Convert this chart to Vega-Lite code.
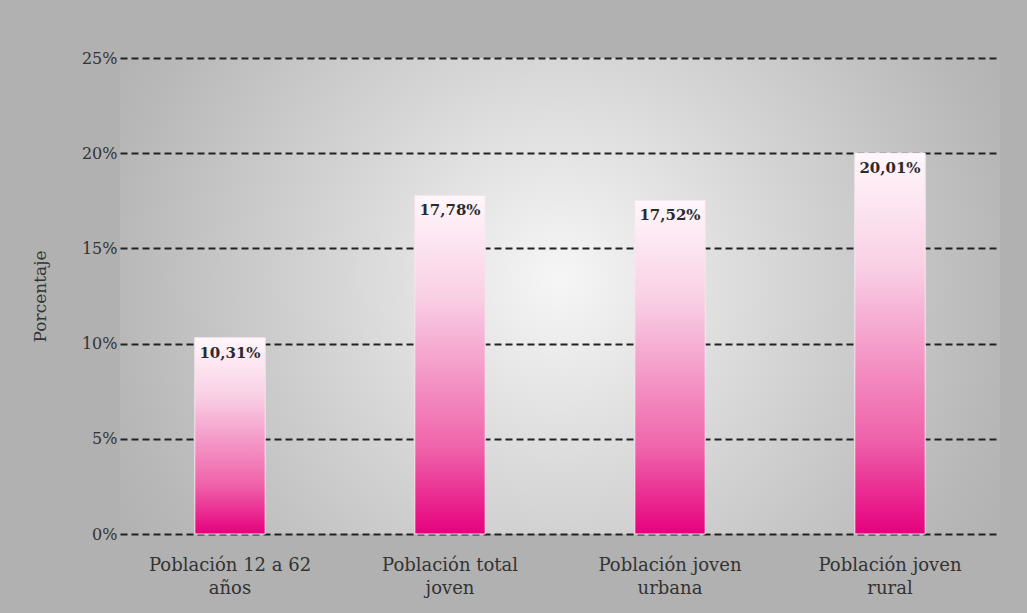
{
  "$schema": "https://vega.github.io/schema/vega-lite/v6.json",
  "autosize": "none",
  "width": 880,
  "height": 476,
  "padding": {"left": 120, "top": 58, "right": 27, "bottom": 79},
  "background": "#b1b1b1",
  "view": {
    "stroke": null,
    "fill": {
      "gradient": "radial",
      "x1": 0.5, "y1": 0.48, "x2": 0.5, "y2": 0.48,
      "r1": 0, "r2": 0.72,
      "stops": [
        {"offset": 0, "color": "#f6f6f6"},
        {"offset": 0.35, "color": "#d6d6d6"},
        {"offset": 0.7, "color": "#b8b8b8"},
        {"offset": 1, "color": "#a6a6a6"}
      ]
    }
  },
  "config": {
    "locale": {"number": {"decimal": ",", "thousands": ".", "grouping": [3], "currency": ["", " €"]}},
    "font": "DejaVu Serif"
  },
  "data": {
    "values": [
      {"grupo": "Población 12 a 62 años", "porcentaje": 0.1031},
      {"grupo": "Población total joven", "porcentaje": 0.1778},
      {"grupo": "Población joven urbana", "porcentaje": 0.1752},
      {"grupo": "Población joven rural", "porcentaje": 0.2001}
    ]
  },
  "encoding": {
    "x": {
      "field": "grupo",
      "type": "nominal",
      "sort": null,
      "scale": {"paddingInner": 0.68, "paddingOuter": 0.34},
      "axis": {
        "title": null,
        "domain": false,
        "ticks": false,
        "labelAngle": 0,
        "labelFontSize": 18,
        "labelColor": "#333333",
        "labelPadding": 22,
        "labelLineHeight": 23,
        "labelExpr": "[slice(datum.value, 0, lastindexof(datum.value, ' ')), slice(datum.value, lastindexof(datum.value, ' ') + 1)]"
      }
    },
    "y": {
      "field": "porcentaje",
      "type": "quantitative",
      "scale": {"domain": [0, 0.25]},
      "axis": {
        "title": "Porcentaje",
        "titleFontSize": 17,
        "titleFontWeight": "normal",
        "titleColor": "#333333",
        "titlePadding": 32,
        "format": ".0%",
        "values": [0, 0.05, 0.1, 0.15, 0.2, 0.25],
        "domain": false,
        "ticks": false,
        "labelPadding": 3,
        "labelFontSize": 16,
        "labelColor": "#333333",
        "grid": true,
        "gridColor": "#222222",
        "gridDash": [7, 4],
        "gridWidth": 1.8,
        "gridOpacity": 1
      }
    }
  },
  "layer": [
    {
      "mark": {
        "type": "bar",
        "color": {
          "gradient": "linear",
          "x1": 0, "y1": 0, "x2": 0, "y2": 1,
          "stops": [
            {"offset": 0, "color": "#fff7fb"},
            {"offset": 0.3, "color": "#f9cfe4"},
            {"offset": 0.75, "color": "#ef62aa"},
            {"offset": 1, "color": "#e6007e"}
          ]
        },
        "stroke": "#f5e6ee",
        "strokeWidth": 1
      }
    },
    {
      "mark": {
        "type": "text",
        "baseline": "top",
        "dy": 8,
        "fontSize": 15,
        "fontWeight": "bold",
        "color": "#2b2b2b"
      },
      "encoding": {
        "text": {"field": "porcentaje", "type": "quantitative", "format": ".2%"}
      }
    }
  ]
}
